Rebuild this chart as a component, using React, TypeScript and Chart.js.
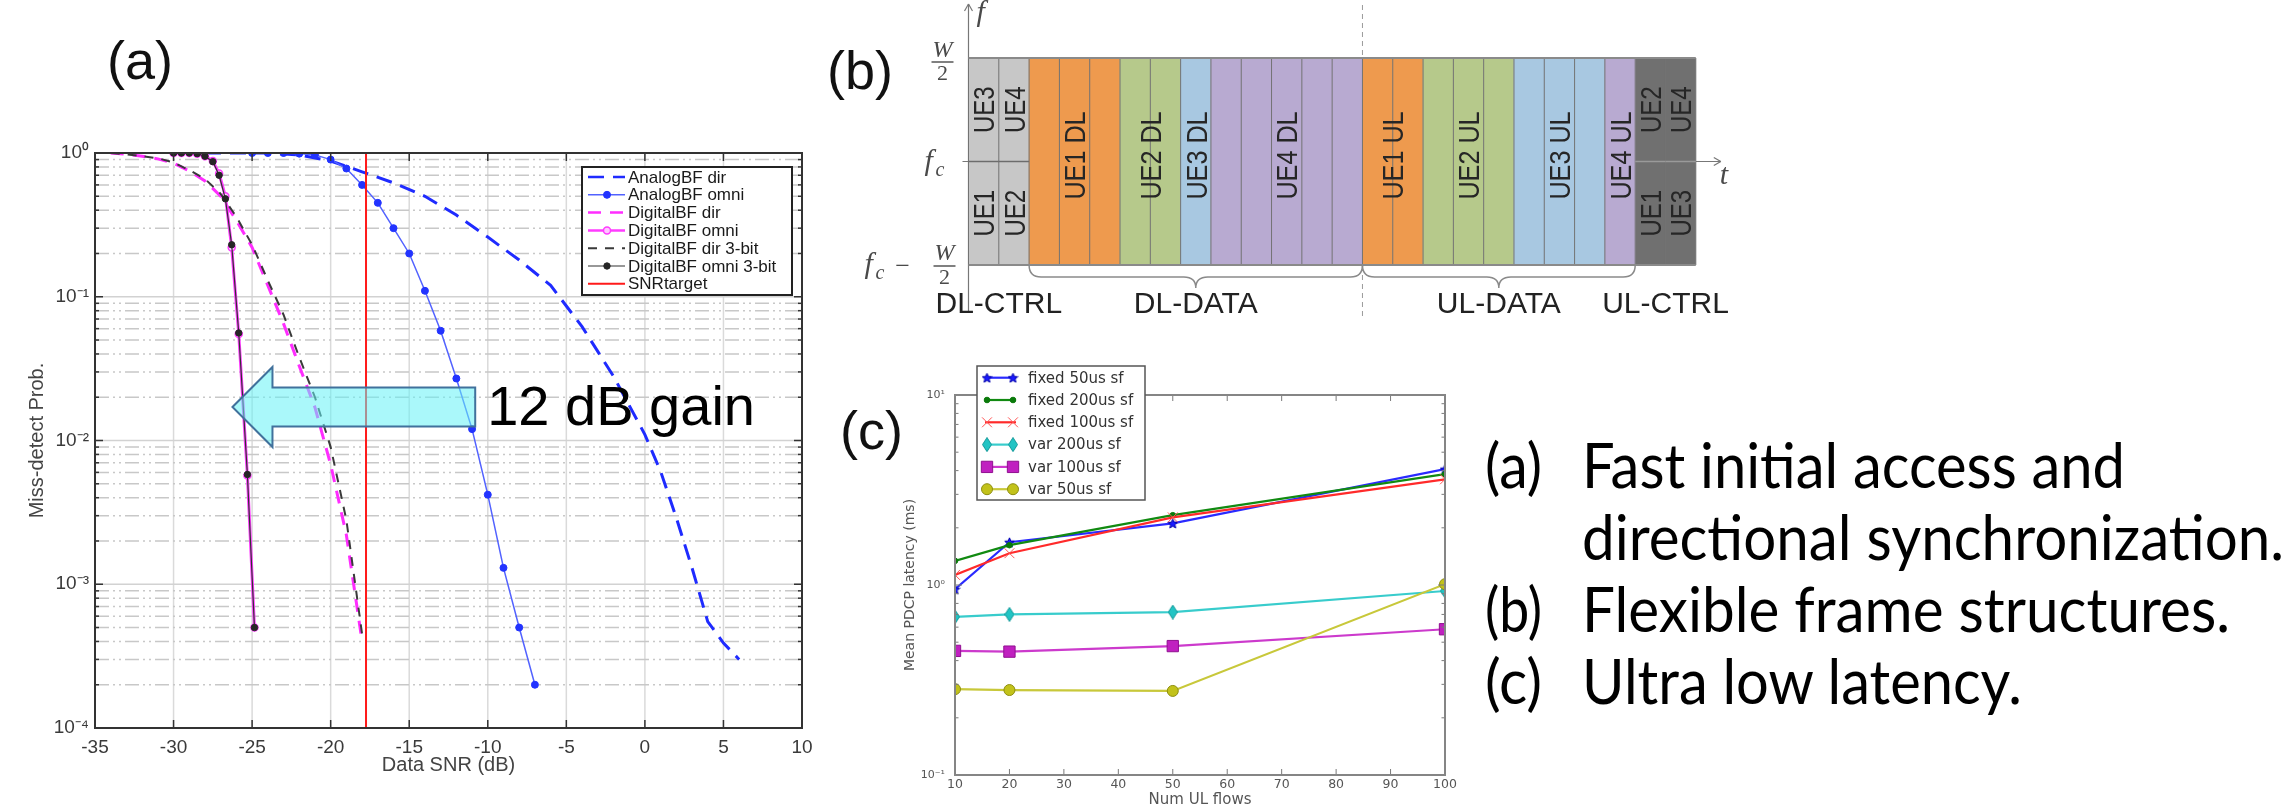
import React, { useEffect, useRef } from 'react';
import { Chart, registerables } from 'chart.js';

Chart.register(...registerables);

// ================= Panel (a): miss-detect probability vs. data SNR =================
const snrTicks = [-35, -30, -25, -20, -15, -10, -5, 0, 5, 10];
const probDecades = [1e-4, 1e-3, 1e-2, 1e-1, 1];
const probDecadeLabels = ['10⁻⁴', '10⁻³', '10⁻²', '10⁻¹', '10⁰'];

const analogDirSnr = [-28, -26, -24, -22, -20, -18, -16, -14, -12, -10, -8, -6, -4, -2, 0, 1, 2, 3, 4, 5, 6];
const analogDirProb = [1, 1, 1, 0.97, 0.88, 0.74, 0.62, 0.5, 0.37, 0.26, 0.18, 0.12, 0.062, 0.028, 0.011, 0.0061, 0.0029, 0.0013, 0.00055, 0.00039, 0.0003];

const analogOmniSnr = [-25, -24, -23, -22, -21, -20, -19, -18, -17, -16, -15, -14, -13, -12, -11, -10, -9, -8, -7];
const analogOmniProb = [1, 1, 1, 0.99, 0.97, 0.9, 0.78, 0.6, 0.45, 0.3, 0.2, 0.11, 0.058, 0.027, 0.012, 0.0042, 0.0013, 0.0005, 0.0002];

const digitalDirSnr = [-34, -33, -32, -31, -30, -29, -28, -27, -26, -25, -24, -23, -22, -21, -20, -19, -18];
const digitalDirProb = [1, 0.98, 0.95, 0.91, 0.85, 0.75, 0.64, 0.5, 0.34, 0.22, 0.12, 0.065, 0.033, 0.017, 0.0068, 0.0022, 0.0004];
const digitalDir3bitProb = [1, 0.98, 0.95, 0.92, 0.86, 0.76, 0.66, 0.52, 0.36, 0.23, 0.13, 0.075, 0.038, 0.02, 0.009, 0.0028, 0.00045];

const digitalOmniSnr = [-30, -29.5, -29, -28.5, -28, -27.5, -27.1, -26.7, -26.3, -25.85, -25.3, -24.85];
const digitalOmniProb = [1, 1, 1, 0.99, 0.95, 0.88, 0.72, 0.5, 0.22, 0.055, 0.0057, 0.0005];
const digitalOmni3bitProb = [1, 1, 1, 0.99, 0.95, 0.87, 0.7, 0.48, 0.23, 0.056, 0.0058, 0.0005];

const snrTargetDb = -17.75;
const legendA = ['AnalogBF dir', 'AnalogBF omni', 'DigitalBF dir', 'DigitalBF omni', 'DigitalBF dir 3-bit', 'DigitalBF omni 3-bit', 'SNRtarget'];

const gainArrowFromSnr = -10.8;
const gainArrowToSnr = -26.25;
const gainArrowProb = 0.0171;
const gainArrowText = '12 dB gain';

// ================= Panel (b): frame structure =================
const framePhases = ['DL-CTRL', 'DL-DATA', 'UL-DATA', 'UL-CTRL'];
const framePhaseSlots = [2, 11, 9, 2];
const dataSlotOwners = ['UE1', 'UE1', 'UE1', 'UE2', 'UE2', 'UE3', 'UE4', 'UE4', 'UE4', 'UE4', 'UE4',
  'UE1', 'UE1', 'UE2', 'UE2', 'UE2', 'UE3', 'UE3', 'UE3', 'UE4'];
const ctrlUpperUEs = ['UE3', 'UE4', 'UE2', 'UE4'];
const ctrlLowerUEs = ['UE1', 'UE2', 'UE1', 'UE3'];

// ================= Panel (c): latency =================
const ulFlows = [10, 20, 50, 100];
const flowTicks = [10, 20, 30, 40, 50, 60, 70, 80, 90, 100];
const fixed50us = [0.95, 1.68, 2.11, 4.07];
const fixed200us = [1.34, 1.62, 2.33, 3.83];
const fixed100us = [1.13, 1.47, 2.27, 3.6];
const var200us = [0.68, 0.7, 0.72, 0.93];
const var100us = [0.45, 0.446, 0.477, 0.585];
const var50us = [0.283, 0.28, 0.277, 1.01];
const legendC = ['fixed 50us sf', 'fixed 200us sf', 'fixed 100us sf', 'var 200us sf', 'var 100us sf', 'var 50us sf'];
const latencyDecades = [0.1, 1, 10];
const latencyDecadeLabels = ['10⁻¹', '10⁰', '10¹'];

// ================= Summary text =================
const summaryMarks = ['(a)', '', '(b)', '(c)'];
const summaryLines = ['Fast initial access and', 'directional synchronization.', 'Flexible frame structures.', 'Ultra low latency.'];

// ---------------------------------------------------------------
const SANS = '"Liberation Sans", Arial, sans-serif';
const DEJAVU = '"DejaVu Sans", sans-serif';
const SERIF = '"Liberation Serif", "DejaVu Serif", serif';

function line(ctx: any, x1: number, y1: number, x2: number, y2: number) {
  ctx.beginPath();
  ctx.moveTo(x1, y1);
  ctx.lineTo(x2, y2);
  ctx.stroke();
}

function drawMarker(ctx: any, style: any, x: number, y: number, r: number, fill: string, stroke: string, bw: number) {
  ctx.save();
  if (style && typeof style === 'object') {
    ctx.drawImage(style, x - style.width / 2, y - style.height / 2);
  } else if (style === 'rect') {
    const s = r * Math.SQRT1_2;
    ctx.fillStyle = fill; ctx.strokeStyle = stroke; ctx.lineWidth = bw;
    ctx.beginPath(); ctx.rect(x - s, y - s, 2 * s, 2 * s); ctx.fill(); ctx.stroke();
  } else if (style === 'crossRot') {
    const s = r * Math.SQRT1_2;
    ctx.strokeStyle = stroke; ctx.lineWidth = bw;
    line(ctx, x - s, y - s, x + s, y + s);
    line(ctx, x - s, y + s, x + s, y - s);
  } else {
    ctx.fillStyle = fill; ctx.strokeStyle = stroke; ctx.lineWidth = bw;
    ctx.beginPath(); ctx.arc(x, y, r, 0, Math.PI * 2); ctx.fill(); if (bw > 0) ctx.stroke();
  }
  ctx.restore();
}

function starCanvas(size: number, fill: string, stroke: string) {
  const c = document.createElement('canvas');
  c.width = size; c.height = size;
  const g = c.getContext('2d')!;
  const cx = size / 2, cy = size / 2 + 0.5, R = size / 2 - 0.5, r = R * 0.45;
  g.beginPath();
  for (let k = 0; k < 10; k++) {
    const a = -Math.PI / 2 + (k * Math.PI) / 5;
    const rr = k % 2 ? r : R;
    g.lineTo(cx + rr * Math.cos(a), cy + rr * Math.sin(a));
  }
  g.closePath();
  g.fillStyle = fill; g.fill();
  g.strokeStyle = stroke; g.lineWidth = 1; g.stroke();
  return c;
}

function thinDiamondCanvas(w: number, h: number, fill: string, stroke: string) {
  const c = document.createElement('canvas');
  c.width = w; c.height = h;
  const g = c.getContext('2d')!;
  g.beginPath();
  g.moveTo(w / 2, 0.5); g.lineTo(w - 0.5, h / 2); g.lineTo(w / 2, h - 0.5); g.lineTo(0.5, h / 2);
  g.closePath();
  g.fillStyle = fill; g.fill();
  g.strokeStyle = stroke; g.lineWidth = 1; g.stroke();
  return c;
}

// ---------------- Panel (a) plugin ----------------
const panelAPlugin = {
  id: 'panelA',
  beforeDatasetsDraw(chart: any) {
    const { ctx, chartArea: ca } = chart;
    const xs = chart.scales.x, ys = chart.scales.y;
    ctx.save();
    ctx.beginPath();
    ctx.rect(ca.left, ca.top, ca.right - ca.left, ca.bottom - ca.top);
    ctx.clip();
    ctx.lineWidth = 1.5;
    ctx.strokeStyle = '#dadada';
    for (const v of snrTicks) {
      const px = xs.getPixelForValue(v);
      line(ctx, px, ca.top, px, ca.bottom);
    }
    for (let d = 0; d < probDecades.length - 1; d++) {
      for (let m = 1; m <= 9; m++) {
        const py = ys.getPixelForValue(probDecades[d] * m);
        ctx.setLineDash(m === 1 ? [] : [14, 4, 2, 4, 2, 4]);
        ctx.strokeStyle = m === 1 ? '#d2d2d2' : '#c8c8c8';
        line(ctx, ca.left, py, ca.right, py);
      }
    }
    ctx.restore();
  },
  afterDatasetsDraw(chart: any) {
    const { ctx, chartArea: ca } = chart;
    const xs = chart.scales.x, ys = chart.scales.y;
    ctx.save();
    // 12 dB gain arrow
    const xb = xs.getPixelForValue(gainArrowFromSnr);
    const xt = xs.getPixelForValue(gainArrowToSnr);
    const yc = ys.getPixelForValue(gainArrowProb);
    const bodyH = 19.5, headH = 40, headL = 40;
    ctx.beginPath();
    ctx.moveTo(xt, yc);
    ctx.lineTo(xt + headL, yc - headH);
    ctx.lineTo(xt + headL, yc - bodyH);
    ctx.lineTo(xb, yc - bodyH);
    ctx.lineTo(xb, yc + bodyH);
    ctx.lineTo(xt + headL, yc + bodyH);
    ctx.lineTo(xt + headL, yc + headH);
    ctx.closePath();
    ctx.fillStyle = 'rgba(100, 242, 246, 0.55)';
    ctx.fill();
    ctx.strokeStyle = '#41719c';
    ctx.lineWidth = 2;
    ctx.stroke();
    ctx.fillStyle = '#000';
    ctx.font = `56px ${SANS}`;
    ctx.textAlign = 'left';
    ctx.textBaseline = 'alphabetic';
    ctx.fillText(gainArrowText, xb + 12, yc + 18);

    // box + inward ticks
    ctx.strokeStyle = '#333';
    ctx.lineWidth = 1.5;
    for (const v of snrTicks) {
      const px = xs.getPixelForValue(v);
      line(ctx, px, ca.bottom, px, ca.bottom - 8);
      line(ctx, px, ca.top, px, ca.top + 8);
    }
    for (let d = 0; d < probDecades.length; d++) {
      for (let m = 1; m <= (d === probDecades.length - 1 ? 1 : 9); m++) {
        const py = ys.getPixelForValue(probDecades[d] * m);
        const L = m === 1 ? 8 : 4;
        line(ctx, ca.left, py, ca.left + L, py);
        line(ctx, ca.right, py, ca.right - L, py);
      }
    }
    ctx.lineWidth = 2;
    ctx.strokeRect(ca.left, ca.top, ca.right - ca.left, ca.bottom - ca.top);

    // legend
    const lx = ca.right - 220, ly = ca.top + 14, lw = 210, lh = 128;
    ctx.fillStyle = '#fff';
    ctx.fillRect(lx, ly, lw, lh);
    ctx.strokeStyle = '#222';
    ctx.lineWidth = 2;
    ctx.strokeRect(lx, ly, lw, lh);
    chart.data.datasets.forEach((ds: any, i: number) => {
      const ry = ly + 10 + i * 17.8;
      ctx.save();
      ctx.strokeStyle = ds.borderColor;
      ctx.lineWidth = Math.min(ds.borderWidth, 2.5);
      ctx.setLineDash(ds.borderDash || []);
      line(ctx, lx + 6, ry, lx + 43, ry);
      ctx.restore();
      if (ds.pointRadius > 0) {
        drawMarker(ctx, 'circle', lx + 25, ry, ds.pointRadius, ds.pointBackgroundColor, ds.pointBorderColor, ds.pointBorderWidth || 1);
      }
      ctx.fillStyle = '#1a1a1a';
      ctx.font = `17px ${SANS}`;
      ctx.textBaseline = 'middle';
      ctx.fillText(ds.label, lx + 46, ry + 1);
    });
    ctx.restore();
  },
};

function makeChartA(canvas: HTMLCanvasElement) {
  const pts = (xs: number[], ys: number[]) => xs.map((x, i) => ({ x, y: ys[i] }));
  const datasets = [
    { label: legendA[0], data: pts(analogDirSnr, analogDirProb), borderColor: '#1f2bff', borderWidth: 3, borderDash: [16, 9], pointRadius: 0 },
    { label: legendA[1], data: pts(analogOmniSnr, analogOmniProb), borderColor: '#5262ff', borderWidth: 1.5, pointRadius: 3.5, pointBackgroundColor: '#2233ff', pointBorderColor: '#2233ff', pointBorderWidth: 1 },
    { label: legendA[2], data: pts(digitalDirSnr, digitalDirProb), borderColor: '#ff2dff', borderWidth: 3, borderDash: [13, 9], pointRadius: 0 },
    { label: legendA[3], data: pts(digitalOmniSnr, digitalOmniProb), borderColor: '#ff3cff', borderWidth: 3, pointRadius: 3.5, pointBackgroundColor: '#ffc8ff', pointBorderColor: '#ff3cff', pointBorderWidth: 1.5 },
    { label: legendA[4], data: pts(digitalDirSnr, digitalDir3bitProb), borderColor: '#3a3a3a', borderWidth: 2, borderDash: [9, 8], pointRadius: 0 },
    { label: legendA[5], data: pts(digitalOmniSnr, digitalOmni3bitProb), borderColor: '#333333', borderWidth: 1.2, pointRadius: 3.2, pointBackgroundColor: '#262626', pointBorderColor: '#262626', pointBorderWidth: 1 },
    { label: legendA[6], data: [{ x: snrTargetDb, y: probDecades[probDecades.length - 1] }, { x: snrTargetDb, y: probDecades[0] }], borderColor: '#ff1a1a', borderWidth: 2, pointRadius: 0 },
  ].map((d, i) => ({ ...d, order: -i, tension: 0, fill: false, pointHoverRadius: 0 }));

  return new Chart(canvas, {
    type: 'line',
    data: { datasets },
    options: {
      animation: false,
      responsive: false,
      devicePixelRatio: 1,
      events: [],
      layout: { padding: { left: 0, top: 23, right: 28, bottom: 0 } },
      plugins: { legend: { display: false }, tooltip: { enabled: false } },
      scales: {
        x: {
          type: 'linear', min: -35, max: 10,
          afterBuildTicks: (s: any) => { s.ticks = snrTicks.map((v) => ({ value: v })); },
          afterFit: (s: any) => { s.height = 81; },
          grid: { display: false, drawTicks: false },
          border: { display: false },
          ticks: { autoSkip: false, maxRotation: 0, padding: 8, color: '#3a3a3a', font: { family: SANS, size: 19 }, callback: (v: any) => String(v) },
          title: { display: true, text: 'Data SNR (dB)', color: '#444', font: { family: SANS, size: 20 }, padding: { top: 0, bottom: 32 } },
        },
        y: {
          type: 'logarithmic', min: probDecades[0], max: probDecades[probDecades.length - 1],
          afterBuildTicks: (s: any) => { s.ticks = probDecades.map((v) => ({ value: v })); },
          afterFit: (s: any) => { s.width = 95; },
          grid: { display: false, drawTicks: false },
          border: { display: false },
          ticks: { autoSkip: false, padding: 6, color: '#3a3a3a', font: { family: SANS, size: 19 }, callback: (_v: any, i: number) => probDecadeLabels[i] },
          title: { display: true, text: 'Miss-detect Prob.', color: '#444', font: { family: SANS, size: 20 }, padding: { top: 25, bottom: 0 } },
        },
      },
    } as any,
    plugins: [panelAPlugin],
  });
}

// ---------------- Panel (b) ----------------
function buildSlots() {
  const slots: any[] = [];
  let d = 0, c = 0;
  framePhases.forEach((ph, p) => {
    for (let k = 0; k < framePhaseSlots[p]; k++) {
      if (ph.endsWith('CTRL')) {
        slots.push({ phase: ph, upper: ctrlUpperUEs[c], lower: ctrlLowerUEs[c] });
        c++;
      } else {
        slots.push({ phase: ph, owner: dataSlotOwners[d] });
        d++;
      }
    }
  });
  return slots;
}

const ueColors: any = { UE1: '#ee9a4e', UE2: '#b6c98b', UE3: '#a8c8e1', UE4: '#b8aad1' };
const ctrlColors: any = { 'DL-CTRL': '#c7c7c7', 'UL-CTRL': '#707070' };

function vText(ctx: any, text: string, x: number, y: number, size: number, squash: number) {
  ctx.save();
  ctx.translate(x, y);
  ctx.rotate(-Math.PI / 2);
  ctx.scale(squash, 1);
  ctx.font = `${size}px ${SANS}`;
  ctx.textAlign = 'center';
  ctx.textBaseline = 'alphabetic';
  ctx.fillText(text, 0, 0.358 * size);
  ctx.restore();
}

function brace(ctx: any, x0: number, x1: number, yTop: number, h: number, depth: number) {
  const mid = (x0 + x1) / 2;
  ctx.beginPath();
  ctx.moveTo(x0, yTop);
  ctx.quadraticCurveTo(x0, yTop + h, x0 + h, yTop + h);
  ctx.lineTo(mid - h, yTop + h);
  ctx.quadraticCurveTo(mid, yTop + h, mid, yTop + depth);
  ctx.quadraticCurveTo(mid, yTop + h, mid + h, yTop + h);
  ctx.lineTo(x1 - h, yTop + h);
  ctx.quadraticCurveTo(x1, yTop + h, x1, yTop);
  ctx.stroke();
}

function makePanelBPlugin(slots: any[]) {
  const edgeOf = (chart: any, i: number) => {
    const xs = chart.scales.x;
    const band = xs.getPixelForValue(1) - xs.getPixelForValue(0);
    return xs.getPixelForValue(0) - band / 2 + i * band;
  };
  const runs = () => {
    const out: any[] = [];
    slots.forEach((s, i) => {
      const key = s.phase + '|' + (s.owner || '');
      const last = out[out.length - 1];
      if (last && last.key === key) last.end = i;
      else out.push({ key, phase: s.phase, owner: s.owner, start: i, end: i });
    });
    return out;
  };
  const phaseRuns = () => {
    const out: any[] = [];
    slots.forEach((s, i) => {
      const last = out[out.length - 1];
      if (last && last.phase === s.phase) last.end = i;
      else out.push({ phase: s.phase, start: i, end: i });
    });
    return out;
  };
  return {
    id: 'panelB',
    beforeDatasetsDraw(chart: any) {
      const { ctx, chartArea: ca } = chart;
      const ys = chart.scales.y;
      const y0 = ys.getPixelForValue(0);
      ctx.save();
      ctx.strokeStyle = '#9a9a9a';
      ctx.lineWidth = 1;
      ctx.setLineDash([5, 4]);
      const pr = phaseRuns();
      const dlData = pr.find((r) => r.phase === 'DL-DATA');
      const xd = edgeOf(chart, dlData.end + 1);
      line(ctx, xd, 5, xd, ca.bottom + 52);
      ctx.setLineDash([]);
      ctx.strokeStyle = '#777';
      ctx.lineWidth = 1.2;
      line(ctx, ca.left, 4, ca.left, ca.bottom + 48);
      line(ctx, ca.left - 6, y0, ca.right + 25, y0);
      ctx.restore();
    },
    afterDatasetsDraw(chart: any) {
      const { ctx, chartArea: ca } = chart;
      const ys = chart.scales.y, xs = chart.scales.x;
      const y0 = ys.getPixelForValue(0);
      ctx.save();
      // column separators
      ctx.strokeStyle = '#737373';
      ctx.lineWidth = 1;
      for (let i = 0; i <= slots.length; i++) {
        const px = edgeOf(chart, i);
        line(ctx, px, ca.top, px, ca.bottom);
      }
      // control split lines
      ctx.lineWidth = 1.5;
      slots.forEach((s, i) => {
        if (!s.owner) {
          ctx.strokeStyle = s.phase === 'DL-CTRL' ? '#6c6c6c' : '#9a9a9a';
          line(ctx, edgeOf(chart, i), y0, edgeOf(chart, i + 1), y0);
        }
      });
      // top / bottom edges
      ctx.strokeStyle = '#8a8a8a';
      ctx.lineWidth = 2;
      line(ctx, ca.left, ca.top, ca.right, ca.top);
      line(ctx, ca.left, ca.bottom, ca.right, ca.bottom);
      // axis arrows
      ctx.strokeStyle = '#777';
      ctx.lineWidth = 1.2;
      const tip = ca.right + 25;
      line(ctx, tip - 7, y0 - 4, tip, y0);
      line(ctx, tip - 7, y0 + 4, tip, y0);
      line(ctx, ca.left - 4, 11, ca.left, 4);
      line(ctx, ca.left + 4, 11, ca.left, 4);

      // rotated labels
      ctx.fillStyle = '#262626';
      runs().forEach((r) => {
        if (r.owner) {
          const cx = (xs.getPixelForValue(r.start) + xs.getPixelForValue(r.end)) / 2;
          vText(ctx, `${r.owner} ${r.phase.slice(0, 2)}`, cx, y0 - 6, 30, 0.84);
        }
      });
      slots.forEach((s, i) => {
        if (!s.owner) {
          const cx = xs.getPixelForValue(i);
          vText(ctx, s.upper, cx, (ca.top + y0) / 2, 30, 0.8);
          vText(ctx, s.lower, cx, (y0 + ca.bottom) / 2, 30, 0.8);
        }
      });

      // braces + phase labels
      ctx.strokeStyle = '#8a8a8a';
      ctx.lineWidth = 1.5;
      ctx.fillStyle = '#222';
      ctx.font = `30px ${SANS}`;
      ctx.textAlign = 'center';
      ctx.textBaseline = 'alphabetic';
      phaseRuns().forEach((r) => {
        const x0 = edgeOf(chart, r.start), x1 = edgeOf(chart, r.end + 1);
        if (r.phase.endsWith('DATA')) brace(ctx, x0, x1, ca.bottom, 12, 23);
        ctx.fillText(r.phase, (x0 + x1) / 2, ca.bottom + 48);
      });

      // math labels
      ctx.fillStyle = '#4a4a4a';
      ctx.strokeStyle = '#4a4a4a';
      ctx.textAlign = 'left';
      ctx.font = `italic 30px ${SERIF}`;
      ctx.fillText('f', ca.left + 8, 21);
      ctx.fillText('t', ca.right + 24, y0 + 22);
      // W/2 (top)
      let cx = ca.left - 26;
      ctx.textAlign = 'center';
      ctx.font = `italic 24px ${SERIF}`;
      ctx.fillText('W', cx, ca.top - 1);
      ctx.lineWidth = 1.4;
      line(ctx, cx - 11, ca.top + 4, cx + 11, ca.top + 4);
      ctx.font = `22px ${SERIF}`;
      ctx.fillText('2', cx, ca.top + 22);
      // f_c (middle)
      ctx.textAlign = 'left';
      ctx.font = `italic 30px ${SERIF}`;
      ctx.fillText('f', ca.left - 44, y0 + 8);
      ctx.font = `italic 20px ${SERIF}`;
      ctx.fillText('c', ca.left - 33, y0 + 14);
      // f_c - W/2 (bottom)
      const yb = ca.bottom + 1;
      ctx.font = `italic 30px ${SERIF}`;
      ctx.fillText('f', ca.left - 104, yb + 7);
      ctx.font = `italic 20px ${SERIF}`;
      ctx.fillText('c', ca.left - 93, yb + 13);
      ctx.textAlign = 'center';
      ctx.font = `26px ${SERIF}`;
      ctx.fillText('−', ca.left - 66, yb + 8);
      cx = ca.left - 24;
      ctx.font = `italic 24px ${SERIF}`;
      ctx.fillText('W', cx, yb - 6);
      line(ctx, cx - 11, yb, cx + 11, yb);
      ctx.font = `22px ${SERIF}`;
      ctx.fillText('2', cx, yb + 18);
      ctx.restore();
    },
  };
}

function makeChartB(canvas: HTMLCanvasElement) {
  const slots = buildSlots();
  const common = { grouped: false, barPercentage: 1, categoryPercentage: 1, borderWidth: 0 };
  return new Chart(canvas, {
    type: 'bar',
    data: {
      labels: slots.map((_s, i) => String(i + 1)),
      datasets: [
        { ...common, label: 'data', data: slots.map((s) => (s.owner ? [-1, 1] : null)), backgroundColor: slots.map((s) => (s.owner ? ueColors[s.owner] : 'transparent')) },
        { ...common, label: 'ctrl-upper', data: slots.map((s) => (s.owner ? null : [0, 1])), backgroundColor: slots.map((s) => ctrlColors[s.phase] || 'transparent') },
        { ...common, label: 'ctrl-lower', data: slots.map((s) => (s.owner ? null : [-1, 0])), backgroundColor: slots.map((s) => ctrlColors[s.phase] || 'transparent') },
      ],
    },
    options: {
      animation: false,
      responsive: false,
      devicePixelRatio: 1,
      events: [],
      layout: { padding: { left: 148.5, right: 64.2, top: 58, bottom: 65 } },
      plugins: { legend: { display: false }, tooltip: { enabled: false } },
      scales: {
        x: { type: 'category', display: false, offset: true },
        y: { type: 'linear', display: false, min: -1, max: 1 },
      },
    } as any,
    plugins: [makePanelBPlugin(slots)],
  });
}

// ---------------- Panel (c) ----------------
const panelCPlugin = {
  id: 'panelC',
  afterDatasetsDraw(chart: any) {
    const { ctx, chartArea: ca } = chart;
    const xs = chart.scales.x, ys = chart.scales.y;
    ctx.save();
    ctx.strokeStyle = '#7a7a7a';
    ctx.lineWidth = 1;
    for (const v of flowTicks) {
      const px = xs.getPixelForValue(v);
      line(ctx, px, ca.bottom, px, ca.bottom - 6);
      line(ctx, px, ca.top, px, ca.top + 6);
    }
    for (let d = 0; d < latencyDecades.length; d++) {
      for (let m = 1; m <= (d === latencyDecades.length - 1 ? 1 : 9); m++) {
        const py = ys.getPixelForValue(latencyDecades[d] * m);
        const L = m === 1 ? 7 : 3.5;
        line(ctx, ca.left, py, ca.left + L, py);
        line(ctx, ca.right, py, ca.right - L, py);
      }
    }
    ctx.strokeStyle = '#858585';
    ctx.lineWidth = 2;
    ctx.strokeRect(ca.left, ca.top, ca.right - ca.left, ca.bottom - ca.top);
    ctx.restore();
  },
  afterDraw(chart: any) {
    const { ctx, chartArea: ca } = chart;
    ctx.save();
    const lx = ca.left + 22, ly = ca.top - 29, lw = 168, lh = 134;
    ctx.fillStyle = '#fff';
    ctx.fillRect(lx, ly, lw, lh);
    ctx.strokeStyle = '#555';
    ctx.lineWidth = 1.5;
    ctx.strokeRect(lx, ly, lw, lh);
    chart.data.datasets.forEach((ds: any, i: number) => {
      const ry = ly + 11.7 + i * 22.3;
      ctx.strokeStyle = ds.borderColor;
      ctx.lineWidth = ds.borderWidth;
      line(ctx, lx + 8, ry, lx + 39, ry);
      for (const mx of [lx + 10, lx + 36]) {
        drawMarker(ctx, ds.pointStyle, mx, ry, ds.pointRadius, ds.pointBackgroundColor, ds.pointBorderColor, ds.pointBorderWidth);
      }
      ctx.fillStyle = '#333';
      ctx.font = `15px ${DEJAVU}`;
      ctx.textBaseline = 'middle';
      ctx.textAlign = 'left';
      ctx.fillText(ds.label, lx + 51, ry + 1);
    });
    ctx.restore();
  },
};

function makeChartC(canvas: HTMLCanvasElement) {
  const pts = (ys: number[]) => ulFlows.map((x, i) => ({ x, y: ys[i] }));
  const star = starCanvas(11, '#1a1aff', '#0000aa');
  const diamond = thinDiamondCanvas(10, 15, '#22c4c4', '#119999');
  const datasets = [
    { label: legendC[0], data: pts(fixed50us), borderColor: '#2a2aff', pointStyle: star, pointRadius: 5, pointBackgroundColor: '#1a1aff', pointBorderColor: '#0000aa', pointBorderWidth: 1 },
    { label: legendC[1], data: pts(fixed200us), borderColor: '#118a11', pointStyle: 'circle', pointRadius: 2.8, pointBackgroundColor: '#0a7a0a', pointBorderColor: '#0a7a0a', pointBorderWidth: 1 },
    { label: legendC[2], data: pts(fixed100us), borderColor: '#ff2a2a', pointStyle: 'crossRot', pointRadius: 7, pointBackgroundColor: '#ff5555', pointBorderColor: '#ff5555', pointBorderWidth: 1 },
    { label: legendC[3], data: pts(var200us), borderColor: '#38cccc', pointStyle: diamond, pointRadius: 7, pointBackgroundColor: '#22c4c4', pointBorderColor: '#119999', pointBorderWidth: 1 },
    { label: legendC[4], data: pts(var100us), borderColor: '#cc3acc', pointStyle: 'rect', pointRadius: 8, pointBackgroundColor: '#c020c0', pointBorderColor: '#901090', pointBorderWidth: 1 },
    { label: legendC[5], data: pts(var50us), borderColor: '#c8c83a', pointStyle: 'circle', pointRadius: 5.5, pointBackgroundColor: '#c2c21a', pointBorderColor: '#8e8e10', pointBorderWidth: 1 },
  ].map((d, i) => ({ ...d, order: -i, borderWidth: 2.2, tension: 0, fill: false, pointHoverRadius: 0 }));

  return new Chart(canvas, {
    type: 'line',
    data: { datasets },
    options: {
      animation: false,
      responsive: false,
      devicePixelRatio: 1,
      events: [],
      layout: { padding: { left: 0, top: 35, right: 25, bottom: 0 } },
      plugins: { legend: { display: false }, tooltip: { enabled: false } },
      scales: {
        x: {
          type: 'linear', min: flowTicks[0], max: flowTicks[flowTicks.length - 1],
          afterBuildTicks: (s: any) => { s.ticks = flowTicks.map((v) => ({ value: v })); },
          afterFit: (s: any) => { s.height = 34; },
          grid: { display: false, drawTicks: false },
          border: { display: false },
          ticks: { autoSkip: false, maxRotation: 0, padding: 2.5, color: '#555', font: { family: DEJAVU, size: 12.5 }, callback: (v: any) => String(v) },
          title: { display: true, text: 'Num UL flows', color: '#555', font: { family: DEJAVU, size: 15 }, padding: { top: 0, bottom: 0 } },
        },
        y: {
          type: 'logarithmic', min: latencyDecades[0], max: latencyDecades[latencyDecades.length - 1],
          afterBuildTicks: (s: any) => { s.ticks = latencyDecades.map((v) => ({ value: v })); },
          afterFit: (s: any) => { s.width = 65; },
          grid: { display: false, drawTicks: false },
          border: { display: false },
          ticks: { autoSkip: false, padding: 10, color: '#555', font: { family: DEJAVU, size: 11 }, callback: (_v: any, i: number) => latencyDecadeLabels[i] },
          title: { display: true, text: 'Mean PDCP latency (ms)', color: '#555', font: { family: DEJAVU, size: 14 }, padding: { top: 12, bottom: 0 } },
        },
      },
    } as any,
    plugins: [panelCPlugin],
  });
}

// ---------------------------------------------------------------
export default function App() {
  const refA = useRef<HTMLCanvasElement>(null);
  const refB = useRef<HTMLCanvasElement>(null);
  const refC = useRef<HTMLCanvasElement>(null);

  useEffect(() => {
    const charts = [makeChartA(refA.current!), makeChartB(refB.current!), makeChartC(refC.current!)];
    return () => charts.forEach((c) => c.destroy());
  }, []);

  const abs = (left: number, top: number, width: number, height: number) => ({ position: 'absolute' as const, left, top, width, height });
  const summaryBaselines = [488, 560, 632, 704];
  const summaryWidths = [543, 702, 648, 440];

  return (
    <div style={{ position: 'absolute', left: 0, top: 0, width: 2296, height: 809, background: '#fff', overflow: 'hidden' }}>
      <canvas ref={refA} width={830} height={679} style={abs(0, 130, 830, 679)} />
      <canvas ref={refB} width={940} height={330} style={abs(820, 0, 940, 330)} />
      <canvas ref={refC} width={580} height={449} style={abs(890, 360, 580, 449)} />
      <svg width={2296} height={809} style={{ position: 'absolute', left: 0, top: 0, pointerEvents: 'none' }}>
        <text x={107} y={79} fontFamily={SANS} fontSize={54} fill="#111">(a)</text>
        <text x={827} y={89} fontFamily={SANS} fontSize={54} fill="#111">(b)</text>
        <text x={840} y={449} fontFamily={SANS} fontSize={54} fill="#111">(c)</text>
        {summaryLines.map((t, i) => (
          <g key={i}>
            {summaryMarks[i] ? (
              <text x={1485} y={summaryBaselines[i]} fontFamily="Lato, 'Open Sans', sans-serif" fontSize={62} fill="#000" textLength={57} lengthAdjust="spacingAndGlyphs">{summaryMarks[i]}</text>
            ) : null}
            <text x={1582} y={summaryBaselines[i]} fontFamily="Lato, 'Open Sans', sans-serif" fontSize={62} fill="#000" textLength={summaryWidths[i]} lengthAdjust="spacingAndGlyphs">{t}</text>
          </g>
        ))}
      </svg>
    </div>
  );
}
